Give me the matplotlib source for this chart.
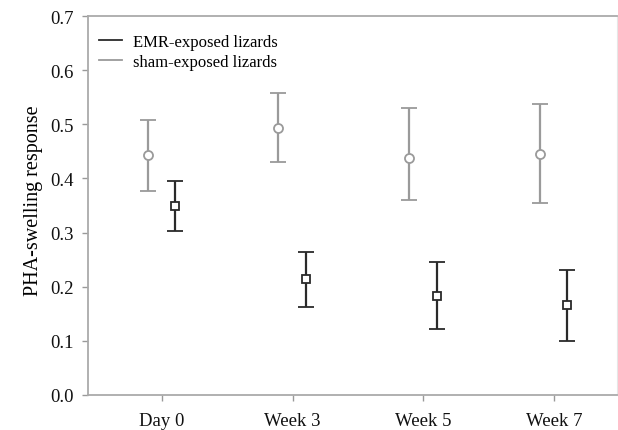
import matplotlib
matplotlib.use("Agg")
import matplotlib.pyplot as plt
import numpy as np

# values
timepoints = ["Day 0", "Week 3", "Week 5", "Week 7"]
emr_mean = [0.350, 0.214, 0.183, 0.166]
emr_low = [0.303, 0.163, 0.121, 0.100]
emr_high = [0.396, 0.265, 0.246, 0.231]
sham_mean = [0.443, 0.494, 0.437, 0.446]
sham_low = [0.377, 0.430, 0.361, 0.354]
sham_high = [0.507, 0.557, 0.530, 0.538]

plt.rcParams["font.family"] = ["Liberation Serif", "DejaVu Serif"]

fig = plt.figure(figsize=(6.18, 4.31), dpi=100)
axis = fig.add_axes([88/618, 1 - 396/431, 529/618, 379/431])

x = np.arange(1, len(timepoints) + 1)
dark = "#2a2a2a"
grey = "#9a9a9a"

sham_err = [np.array(sham_mean) - np.array(sham_low), np.array(sham_high) - np.array(sham_mean)]
emr_err = [np.array(emr_mean) - np.array(emr_low), np.array(emr_high) - np.array(emr_mean)]

axis.errorbar(x - 0.11, sham_mean, yerr=sham_err, fmt="o", color=grey, ecolor=grey,
              mfc="white", mec=grey, ms=6.5, mew=1.3, elinewidth=1.6, capsize=6, capthick=1.6)
axis.errorbar(x + 0.1, emr_mean, yerr=emr_err, fmt="s", color=dark, ecolor=dark,
              mfc="white", mec=dark, ms=6, mew=1.3, elinewidth=1.6, capsize=6, capthick=1.6)

# legend drawn with plain lines like the original
axis.plot([], [], color=dark, lw=1.3, label="EMR-exposed lizards")
axis.plot([], [], color=grey, lw=1.3, label="sham-exposed lizards")
handles, labels = axis.get_legend_handles_labels()
axis.legend(handles[-2:], labels[-2:], loc="upper left", frameon=False, fontsize=12,
            handlelength=1.4, handletextpad=0.65, labelspacing=0.25,
            bbox_to_anchor=(0.0, 0.982), borderaxespad=0.25)

axis.set_xlim(0.434, 4.48)
axis.set_ylim(0, 0.7)
axis.set_xticks(x)
axis.set_xticklabels(timepoints)
axis.set_yticks(np.arange(0, 0.71, 0.1))
axis.set_yticklabels(["%.1f" % v for v in np.arange(0, 0.71, 0.1)])
axis.tick_params(labelsize=13.5, colors="#999999", labelcolor="#111111", length=4, width=1)
axis.tick_params(axis="x", pad=8)
axis.tick_params(axis="y", pad=6)
axis.set_ylabel("PHA-swelling response", fontsize=14.5)
axis.yaxis.set_label_coords(-0.085, 0.515)

for side in ["left", "bottom", "top"]:
    axis.spines[side].set_color("#aaaaaa")
    axis.spines[side].set_linewidth(1.3)
axis.spines["right"].set_color("#e6e6e6")

fig.savefig("out.png", dpi=100)
